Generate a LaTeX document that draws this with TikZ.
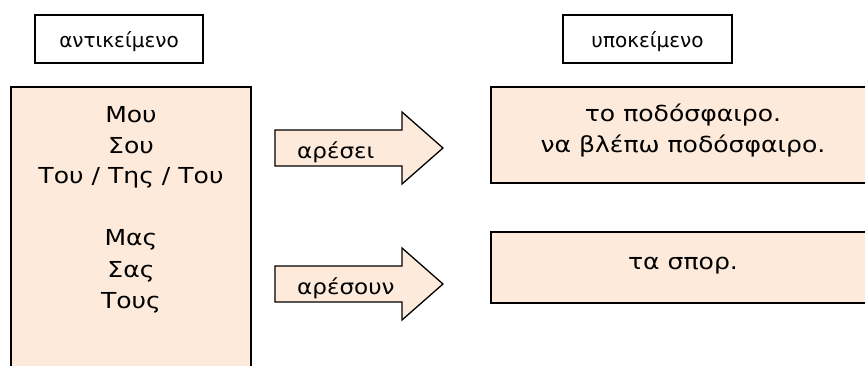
\documentclass[tikz,border=0pt]{standalone}
\usepackage{fontspec}
\setmainfont{DejaVu Sans}
\newfontfamily\bodyfont[FakeStretch=1.14]{DejaVu Sans}
\newfontfamily\lblfont[FakeStretch=1.1]{DejaVu Sans}
\definecolor{peach}{HTML}{FDEADA}
\begin{document}
\begin{tikzpicture}[x=1pt,y=-1pt,
  box/.style={draw=black,line width=1.3pt},
  peachbox/.style={box,fill=peach},
  headbox/.style={box,fill=white},
  head/.style={font=\fontsize{20}{31}\selectfont,anchor=base,inner sep=0pt},
  txt/.style={font=\bodyfont\fontsize{22}{31}\selectfont,anchor=base,inner sep=0pt},
  lbl/.style={font=\lblfont\fontsize{21}{31}\selectfont,anchor=base west,inner sep=0pt}]
\useasboundingbox (0,0) rectangle (865,365);
% header boxes
\draw[headbox] (35,15) rectangle (203,63);
\node[head] (h1) at (119,47) {αντικείμενο};
\draw[headbox] (563,15) rectangle (732,63);
\node[head] (h2) at (647.5,47) {υποκείμενο};
% left big box
\draw[peachbox] (11,87) rectangle (251,380);
\node[txt] (l1) at (131,122) {Μου};
\node[txt] (l2) at (131,153) {Σου};
\node[txt] (l3) at (131,183) {Του / Της / Του};
\node[txt] (l4) at (131,245) {Μας};
\node[txt] (l5) at (131,277) {Σας};
\node[txt] (l6) at (131,308) {Τους};
% arrows
\draw[peachbox] (275,130) -- (402,130) -- (402,112) -- (443,148) -- (402,184) -- (402,166) -- (275,166) -- cycle;
\node[lbl] (a1) at (297,158) {αρέσει};
\draw[peachbox] (275,266) -- (402,266) -- (402,248) -- (443,284) -- (402,320) -- (402,302) -- (275,302) -- cycle;
\node[lbl] (a2) at (297,294) {αρέσουν};
% right boxes
\draw[peachbox] (491,87) rectangle (876,183);
\node[txt] (r1) at (683,121) {το ποδόσφαιρο.};
\node[txt] (r2) at (683,152) {να βλέπω ποδόσφαιρο.};
\draw[peachbox] (491,232) rectangle (876,303);
\node[txt] (r3) at (683,269) {τα σπορ.};
\end{tikzpicture}
\end{document}
